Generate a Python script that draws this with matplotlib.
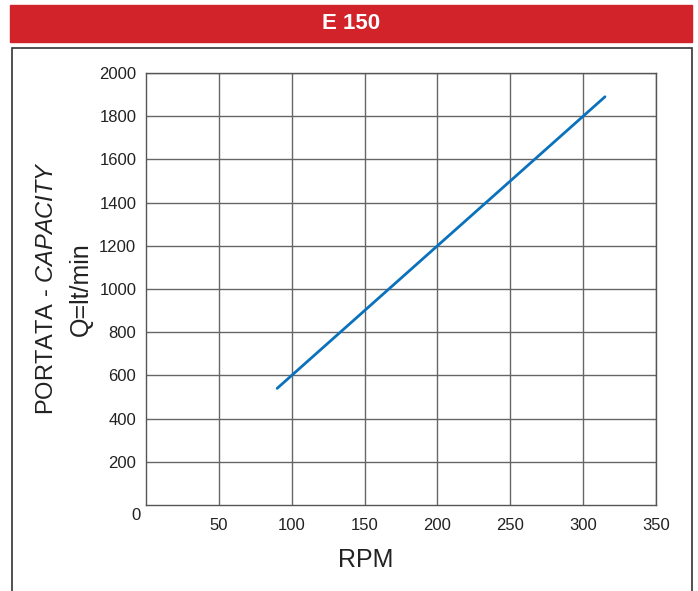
import matplotlib
matplotlib.use('Agg')
import matplotlib.pyplot as plt
from matplotlib.patches import Rectangle

plt.rcParams['font.family'] = ['Liberation Sans', 'DejaVu Sans']
plt.rcParams['mathtext.fontset'] = 'custom'
plt.rcParams['mathtext.it'] = 'Liberation Sans:italic'
plt.rcParams['mathtext.rm'] = 'Liberation Sans'

# data
rpm = [90, 315]
portata = [540, 1890]
x_ticks = [50, 100, 150, 200, 250, 300, 350]
y_ticks = [200, 400, 600, 800, 1000, 1200, 1400, 1600, 1800, 2000]
title = 'E 150'

W, H = 698, 591
fig = plt.figure(figsize=(W / 100, H / 100), dpi=100)

# red banner + outer frame
fig.patches.append(Rectangle((10 / W, 1 - 42 / H), 682 / W, 37 / H,
                             transform=fig.transFigure, color='#d2232a', zorder=0))
fig.text(351 / W, 1 - 23.5 / H, title, color='white', fontsize=16, fontweight='bold',
         ha='center', va='center')
fig.patches.append(Rectangle((12 / W, -5 / H), 680 / W, (H - 48 + 5) / H,
                             transform=fig.transFigure, fill=False,
                             edgecolor='#333333', lw=1.2, zorder=0))

ax = fig.add_axes([146 / W, 1 - 505 / H, 510 / W, 432 / H])
ax.plot(rpm, portata, color='#0a72bd', lw=2, solid_capstyle='round', zorder=3)

ax.set_xlim(0, 350)
ax.set_ylim(0, 2000)
ax.set_xticks(x_ticks)
ax.set_yticks(y_ticks)
ax.tick_params(length=0, labelsize=12, colors='#222222')
ax.tick_params(axis='x', pad=9)
ax.tick_params(axis='y', pad=7)
ax.grid(color='#666666', lw=1)
for s in ax.spines.values():
    s.set_color('#555555')
    s.set_linewidth(1)
ax.text(-0.02, -0.025, '0', transform=ax.transAxes, ha='center', va='center',
        fontsize=12, color='#222222')

fig.text(366 / W, 1 - 560 / H, 'RPM', fontsize=18, ha='center', va='center', color='#222222')
fig.text(47 / W, 1 - 288 / H, r'PORTATA - $\mathit{CAPACITY}$', fontsize=17, rotation=90,
         ha='center', va='center', color='#222222')
fig.text(81 / W, 1 - 289 / H, 'Q=lt/min', fontsize=18, rotation=90,
         ha='center', va='center', color='#222222')

fig.savefig('out.png', dpi=100)
